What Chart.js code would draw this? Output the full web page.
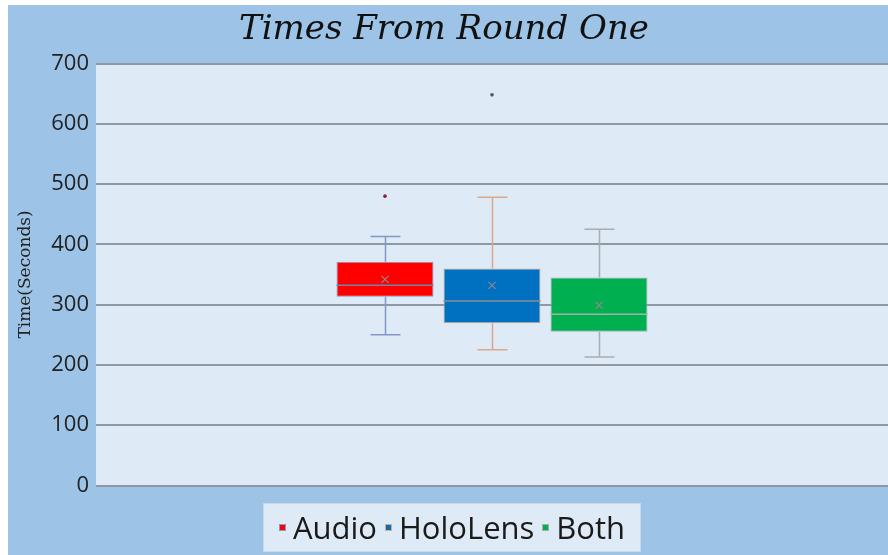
<!DOCTYPE html>
<html>
<head>
<meta charset="utf-8">
<script src="https://cdn.jsdelivr.net/npm/chart.js@4.4.1/dist/chart.umd.min.js"></script>
<style>
  html, body { margin: 0; padding: 0; background: #ffffff; }
  canvas { display: block; }
</style>
</head>
<body>
<canvas id="chart" width="888" height="555"></canvas>
<script>
// Round-one completion times, one box per condition
const categories = ['Round One'];
const seriesNames = ['Audio', 'HoloLens', 'Both'];
const whiskerLow = [250, 225, 213];
const quartile1 = [313, 269, 255];
const medians = [332, 306, 284];
const quartile3 = [371, 360, 345];
const whiskerHigh = [413, 478, 425];
const means = [342, 332, 299];
const outliers = [[480], [648], []];

const fillColors = ['#ff0000', '#0070c0', '#00b050'];
const edgeColors = ['#8497c8', '#dba98a', '#a9adb0'];
const medianColors = ['#7482b0', '#8a8f96', '#a3b3a8'];
const outlierColors = ['#8a1f3a', '#5a5550', '#555555'];

// page and plot backgrounds
const backdrop = {
  id: 'backdrop',
  beforeDraw(chart) {
    const { ctx, chartArea: a } = chart;
    ctx.save();
    ctx.fillStyle = '#ffffff';
    ctx.fillRect(0, 0, chart.width, chart.height);
    ctx.fillStyle = '#9dc3e6';
    ctx.fillRect(8, 5, chart.width - 8, chart.height - 5);
    ctx.fillStyle = '#deeaf6';
    ctx.fillRect(a.left, a.top, a.right - a.left, a.bottom - a.top);
    ctx.restore();
  }
};

// whiskers, caps, median, mean marker and outliers on top of each box
const boxDetails = {
  id: 'boxDetails',
  beforeDatasetsDraw(chart) {
    const { ctx } = chart;
    const y = chart.scales.y;
    ctx.save();
    seriesNames.forEach((name, i) => {
      const bar = chart.getDatasetMeta(i).data[0];
      const cx = Math.round(bar.x) + 0.5;
      const cap = 15;
      ctx.strokeStyle = edgeColors[i];
      ctx.lineWidth = 1.5;
      ctx.beginPath();
      ctx.moveTo(cx, y.getPixelForValue(whiskerHigh[i]));
      ctx.lineTo(cx, y.getPixelForValue(quartile3[i]));
      ctx.moveTo(cx, y.getPixelForValue(quartile1[i]));
      ctx.lineTo(cx, y.getPixelForValue(whiskerLow[i]));
      ctx.moveTo(cx - cap, y.getPixelForValue(whiskerHigh[i]));
      ctx.lineTo(cx + cap, y.getPixelForValue(whiskerHigh[i]));
      ctx.moveTo(cx - cap, y.getPixelForValue(whiskerLow[i]));
      ctx.lineTo(cx + cap, y.getPixelForValue(whiskerLow[i]));
      ctx.stroke();
    });
    ctx.restore();
  },
  afterDatasetsDraw(chart) {
    const { ctx } = chart;
    const y = chart.scales.y;
    ctx.save();
    seriesNames.forEach((name, i) => {
      const bar = chart.getDatasetMeta(i).data[0];
      const cx = bar.x;
      const half = bar.width / 2;
      // median
      const my = y.getPixelForValue(medians[i]);
      ctx.strokeStyle = medianColors[i];
      ctx.lineWidth = 1.5;
      ctx.beginPath();
      ctx.moveTo(cx - half, my);
      ctx.lineTo(cx + half, my);
      ctx.stroke();
      // mean marker
      const ay = y.getPixelForValue(means[i]);
      const s = 3.5;
      ctx.strokeStyle = '#8a8a8a';
      ctx.lineWidth = 1.2;
      ctx.beginPath();
      ctx.moveTo(cx - s, ay - s);
      ctx.lineTo(cx + s, ay + s);
      ctx.moveTo(cx - s, ay + s);
      ctx.lineTo(cx + s, ay - s);
      ctx.stroke();
      // outliers
      ctx.fillStyle = outlierColors[i];
      outliers[i].forEach(v => {
        ctx.beginPath();
        ctx.arc(cx, y.getPixelForValue(v), 1.8, 0, Math.PI * 2);
        ctx.fill();
      });
    });
    ctx.restore();
  }
};

// legend row in its own framed box below the plot
const legendBox = {
  id: 'legendBox',
  afterDraw(chart) {
    const { ctx } = chart;
    const box = { left: 263, top: 503, right: 641, bottom: 552 };
    ctx.save();
    ctx.fillStyle = '#deeaf6';
    ctx.fillRect(box.left, box.top, box.right - box.left, box.bottom - box.top);
    ctx.strokeStyle = '#c6d9ee';
    ctx.lineWidth = 1;
    ctx.strokeRect(box.left + 0.5, box.top + 0.5, box.right - box.left - 1, box.bottom - box.top - 1);
    ctx.font = '31px "Open Sans"';
    ctx.textBaseline = 'alphabetic';
    const sq = 7, gapAfterSq = 7, gapAfterText = 8;
    const widths = seriesNames.map(n => ctx.measureText(n).width);
    const total = widths.reduce((t, w) => t + sq + gapAfterSq + w, 0) + gapAfterText * (seriesNames.length - 1);
    let x = (box.left + box.right) / 2 - total / 2;
    const midY = 527;
    seriesNames.forEach((n, i) => {
      ctx.fillStyle = fillColors[i];
      ctx.fillRect(Math.round(x), midY - 3, sq, sq);
      ctx.strokeStyle = edgeColors[i];
      ctx.strokeRect(Math.round(x) + 0.5, midY - 2.5, sq - 1, sq - 1);
      x += sq + gapAfterSq;
      ctx.fillStyle = '#1a1a1a';
      ctx.fillText(n, x, 538.5);
      x += widths[i] + gapAfterText;
    });
    ctx.restore();
  }
};

new Chart(document.getElementById('chart'), {
  type: 'bar',
  data: {
    labels: categories,
    datasets: seriesNames.map((name, i) => ({
      label: name,
      data: [[quartile1[i], quartile3[i]]],
      backgroundColor: fillColors[i],
      borderColor: edgeColors[i],
      borderWidth: 1,
      borderSkipped: false,
      barPercentage: 0.9065,
      categoryPercentage: 0.4053
    }))
  },
  options: {
    responsive: false,
    animation: false,
    devicePixelRatio: 1,
    layout: { padding: { left: 0, right: 0, top: 0, bottom: 69.5 } },
    plugins: {
      legend: { display: false },
      tooltip: { enabled: false },
      title: {
        display: true,
        text: 'Times From Round One',
        color: '#111111',
        font: { family: '"DejaVu Serif"', style: 'italic', weight: 'normal', size: 34, lineHeight: 1.2 },
        padding: { top: 10, bottom: 12.7 }
      }
    },
    scales: {
      x: { display: false },
      y: {
        min: 0,
        max: 700,
        ticks: {
          stepSize: 100,
          padding: 7,
          color: '#222222',
          font: { family: '"Open Sans"', size: 22 }
        },
        grid: { color: '#8f99a3', lineWidth: 2, drawTicks: false },
        border: { display: false },
        title: {
          display: true,
          text: 'Time(Seconds)',
          color: '#222222',
          font: { family: '"DejaVu Serif"', size: 17 },
          padding: { top: 15, bottom: 0 }
        },
        afterFit(scale) { scale.width = 96; }
      }
    }
  },
  plugins: [backdrop, boxDetails, legendBox]
});
</script>
</body>
</html>
